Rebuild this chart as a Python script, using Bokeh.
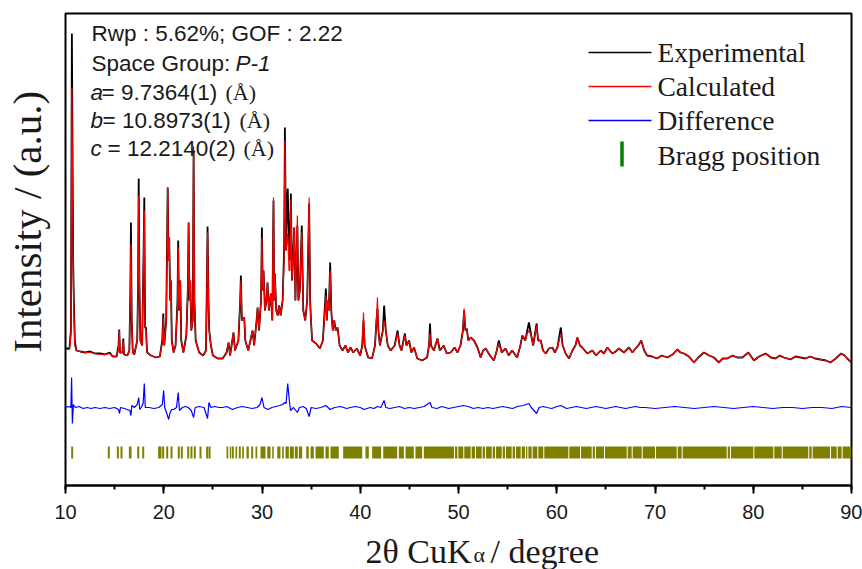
from math import pi
from bokeh.plotting import figure
from bokeh.layouts import column, row
from bokeh.models import Range1d, Label, SingleIntervalTicker
from bokeh.core.properties import value
from bokeh.embed import file_html
from bokeh.resources import INLINE

# ---------------- data ----------------
two_theta = [10.00, 10.40, 10.55, 10.65, 10.78, 10.85, 10.95, 11.1, 11.5, 12.0, 12.5, 13.0, 13.5, 14.0,
             14.5, 14.8, 15.2, 15.4, 15.47, 15.55, 15.8, 15.88, 15.96, 16.3, 16.5, 16.6, 16.66, 16.74,
             16.85, 17.0, 17.3, 17.38, 17.45, 17.52, 17.62, 17.8, 17.95, 18.02, 18.1, 18.19, 18.3, 18.7,
             19.2, 19.6, 19.85, 19.95, 20.05, 20.25, 20.33, 20.4, 20.48, 20.56, 20.65, 20.73, 20.82, 21.0,
             21.2, 21.4, 21.47, 21.55, 21.68, 21.78, 22.0, 22.3, 22.45, 22.53, 22.62, 22.7, 22.8, 22.95,
             23.04, 23.12, 23.25, 23.6, 24.0, 24.3, 24.46, 24.55, 24.63, 24.8, 25.0, 25.5, 26.0, 26.4,
             26.6, 26.75, 27.1, 27.25, 27.6, 27.78, 27.85, 27.95, 28.19, 28.3, 28.6, 29.04, 29.2, 29.45,
             29.55, 29.7, 29.9, 29.99, 30.08, 30.16, 30.3, 30.45, 30.56, 30.7, 30.9, 31.05, 31.17, 31.25,
             31.31, 31.45, 31.6, 31.75, 31.9, 32.1, 32.25, 32.33, 32.45, 32.55, 32.62, 32.75, 32.85, 32.94,
             33.05, 33.15, 33.28, 33.4, 33.5, 33.6, 33.7, 33.85, 34.05, 34.2, 34.4, 34.6, 34.8, 34.9,
             34.97, 35.1, 35.5, 35.9, 36.2, 36.5, 36.6, 36.67, 36.8, 36.94, 37.05, 37.2, 37.35, 37.51,
             37.7, 37.9, 38.2, 38.5, 38.75, 39.0, 39.3, 39.65, 40.0, 40.2, 40.33, 40.45, 40.8, 41.2,
             41.5, 41.65, 41.75, 41.85, 42.0, 42.3, 42.43, 42.6, 42.8, 43.1, 43.5, 43.8, 44.0, 44.2,
             44.54, 44.7, 44.97, 45.2, 45.48, 45.8, 46.3, 46.8, 47.0, 47.1, 47.2, 47.5, 47.86, 48.1,
             48.5, 48.8, 49.2, 49.6, 49.9, 50.2, 50.45, 50.57, 50.7, 50.84, 51.0, 51.25, 51.58, 51.93,
             52.26, 52.5, 52.77, 53.2, 53.6, 53.9, 54.1, 54.4, 54.8, 55.1, 55.46, 55.97, 56.3, 56.5,
             56.8, 57.0, 57.17, 57.4, 57.6, 57.95, 58.1, 58.37, 58.6, 58.88, 59.2, 59.56, 59.8, 60.07,
             60.41, 60.6, 60.9, 61.25, 61.6, 61.9, 62.1, 62.35, 62.6, 63.1, 63.63, 64.0, 64.47, 64.8,
             65.15, 65.66, 66.0, 66.33, 66.84, 67.35, 67.7, 68.03, 68.3, 68.6, 68.9, 69.2, 69.7, 70.2,
             70.7, 71.25, 71.8, 72.27, 72.6, 72.95, 73.45, 73.96, 74.4, 74.98, 75.5, 76.0, 76.5, 76.9,
             77.36, 77.9, 78.37, 78.9, 79.5, 80.07, 80.6, 81.26, 81.8, 82.27, 82.7, 83.1, 83.8, 84.3,
             84.8, 85.3, 85.82, 86.3, 86.84, 87.4, 87.86, 88.4, 88.95, 89.3, 89.56, 90.0]

exp_int = [137, 137, 155, 452, 225, 185, 145, 135, 134, 133, 134, 132, 132, 131,
           133, 129, 129, 140, 156, 133, 133, 147, 131, 130, 135, 193, 263, 165,
           133, 131, 145, 195, 307, 205, 145, 140, 235, 288, 158, 158, 133, 130,
           128, 129, 145, 172, 140, 165, 235, 298, 225, 248, 185, 205, 145, 133,
           140, 185, 245, 175, 205, 145, 133, 150, 195, 263, 185, 205, 155, 165,
           335, 185, 145, 133, 130, 135, 259, 185, 155, 140, 130, 127, 127, 133,
           143, 130, 153, 135, 145, 185, 210, 165, 168, 145, 135, 155, 140, 165,
           178, 155, 185, 258, 195, 215, 175, 185, 203, 175, 192, 165, 285, 185,
           212, 175, 170, 180, 170, 185, 235, 358, 235, 285, 297, 245, 225, 292,
           205, 225, 258, 185, 225, 260, 185, 195, 260, 175, 165, 185, 282, 185,
           168, 145, 142, 137, 145, 197, 165, 185, 175, 223, 175, 155, 165, 155,
           158, 140, 135, 140, 133, 138, 133, 137, 130, 140, 165, 140, 128, 127,
           140, 165, 177, 155, 140, 155, 180, 155, 140, 135, 140, 155, 140, 135,
           152, 140, 145, 133, 138, 127, 125, 128, 140, 162, 140, 135, 147, 135,
           140, 132, 133, 138, 133, 140, 155, 175, 155, 157, 145, 148, 145, 138,
           128, 135, 137, 130, 125, 135, 145, 133, 137, 130, 135, 128, 140, 150,
           145, 155, 163, 150, 140, 162, 145, 145, 135, 132, 137, 138, 133, 138,
           158, 140, 132, 127, 135, 140, 148, 140, 138, 132, 135, 130, 135, 132,
           138, 132, 134, 137, 133, 138, 133, 137, 140, 145, 135, 130, 129, 127,
           130, 128, 131, 136, 133, 132, 129, 123, 128, 133, 130, 128, 123, 127,
           127, 130, 128, 128, 133, 125, 129, 132, 128, 127, 130, 128, 126, 129,
           128, 127, 129, 127, 126, 125, 123, 127, 132, 130, 127, 123]

calc_int = [136, 136, 150, 398, 215, 175, 140, 135, 134, 133, 133, 132, 131, 131,
            132, 129, 129, 137, 155, 133, 133, 145, 131, 130, 135, 193, 242, 165,
            133, 131, 145, 190, 290, 205, 145, 140, 235, 275, 158, 155, 133, 130,
            128, 129, 143, 168, 140, 165, 230, 298, 225, 248, 185, 205, 145, 133,
            140, 180, 238, 175, 205, 145, 133, 150, 195, 263, 185, 205, 155, 165,
            339, 185, 145, 133, 130, 135, 253, 185, 155, 140, 130, 127, 127, 133,
            143, 130, 153, 135, 145, 185, 205, 165, 168, 145, 135, 155, 140, 165,
            178, 155, 185, 248, 195, 215, 175, 185, 203, 175, 192, 165, 288, 185,
            212, 175, 170, 180, 170, 185, 225, 345, 235, 245, 252, 215, 215, 285,
            205, 225, 258, 185, 225, 270, 185, 195, 253, 175, 165, 185, 288, 185,
            168, 145, 142, 137, 145, 190, 165, 185, 175, 215, 175, 155, 165, 155,
            158, 140, 135, 140, 133, 138, 133, 137, 130, 140, 173, 140, 128, 127,
            140, 165, 188, 155, 140, 155, 165, 155, 140, 135, 140, 152, 140, 135,
            150, 140, 145, 133, 138, 127, 125, 128, 140, 152, 140, 135, 147, 135,
            140, 132, 133, 138, 133, 140, 155, 177, 155, 157, 145, 148, 145, 138,
            128, 135, 137, 130, 125, 135, 142, 133, 137, 130, 135, 128, 140, 150,
            145, 152, 155, 150, 140, 160, 145, 145, 135, 132, 137, 138, 133, 138,
            152, 140, 132, 127, 135, 140, 148, 140, 138, 132, 135, 130, 135, 132,
            138, 132, 134, 137, 133, 138, 133, 137, 140, 145, 135, 130, 129, 127,
            130, 128, 131, 136, 133, 132, 129, 123, 128, 133, 130, 128, 123, 127,
            127, 130, 128, 128, 133, 125, 129, 132, 128, 127, 130, 128, 126, 129,
            128, 127, 129, 127, 126, 125, 123, 127, 132, 130, 127, 123]

diff_theta = [10.0, 10.3, 10.55, 10.62, 10.7, 10.8, 11.0, 11.4, 11.8, 12.2, 12.6, 13.0, 13.5, 14.0,
              14.5, 15.0, 15.4, 15.5, 15.6, 16.0, 16.55, 16.66, 16.75, 17.0, 17.3, 17.45, 17.55, 17.7,
              17.9, 18.02, 18.12, 18.5, 19.0, 19.5, 19.85, 19.99, 20.1, 20.35, 20.5, 20.65, 20.8, 21.0,
              21.3, 21.47, 21.6, 21.9, 22.2, 22.5, 22.8, 23.04, 23.2, 23.6, 24.1, 24.46, 24.6, 24.8,
              25.2, 25.6, 26.0, 26.4, 26.8, 27.0, 27.5, 28.0, 28.5, 29.0, 29.5, 29.8, 29.99, 30.2,
              30.6, 31.0, 31.4, 31.8, 32.1, 32.33, 32.45, 32.62, 32.75, 32.9, 33.2, 33.6, 33.8, 34.2,
              34.5, 34.8, 35.0, 35.5, 36.0, 36.5, 36.94, 37.4, 38.0, 38.6, 39.0, 39.5, 40.0, 40.4,
              41.0, 41.4, 41.75, 42.1, 42.43, 42.6, 43.0, 43.5, 44.0, 44.5, 45.0, 45.5, 46.0, 46.5,
              47.1, 47.3, 47.8, 48.3, 49.0, 49.5, 50.0, 50.5, 51.0, 51.5, 52.0, 52.5, 53.0, 53.5,
              54.0, 54.5, 55.0, 55.5, 56.0, 56.6, 57.17, 57.4, 57.95, 58.2, 58.6, 59.0, 59.5, 60.0,
              60.4, 61.0, 61.5, 62.0, 62.5, 63.0, 63.5, 64.0, 64.5, 65.0, 65.5, 66.0, 66.5, 67.0,
              67.5, 68.0, 68.5, 69.0, 70.0, 71.0, 72.0, 73.0, 74.0, 75.0, 76.0, 77.0, 78.0, 79.0,
              80.0, 81.0, 82.0, 83.0, 84.0, 85.0, 86.0, 87.0, 88.0, 89.0, 90.0]
diff_val = [0, 1, 0, 30, -16, 3, 0, 1, -1, 0, -1, 0, -1, 0,
            -1, 0, -2, -6, 0, -1, -3, -8, 2, 0, 3, 10, -2, 0,
            4, 24, 0, 0, -1, 0, 3, 17, 0, -7, -12, -5, -2, -2,
            0, 15, -3, 0, 1, 0, -3, -10, 0, 1, 0, -11, 5, 0,
            1, 0, 0, 1, -1, -2, 0, 1, 0, -1, 0, 3, 10, 0,
            -2, 0, 1, 2, 3, 5, 4, 24, 10, -3, 0, -5, 0, 1,
            -1, -9, 0, -1, 0, 2, -2, 0, 1, -1, 0, 1, 0, -2,
            0, -1, 1, 0, 7, 0, -1, 0, 1, -1, 0, -1, 0, 1,
            5, 0, -1, 1, -1, 0, 1, 2, 1, -1, 0, -1, 0, -1,
            0, 1, 0, -1, 1, 2, 4, 0, -6, 0, 1, 0, -1, 1,
            2, -1, 0, 1, 0, -1, 0, 1, 0, -1, 0, 1, 0, -1,
            0, 1, 0, 0, -1, 0, 1, 0, -1, 0, 1, 0, -1, 0,
            1, 0, -1, 0, 0, -1, 0, 0, -1, 1, 0]

bragg_single = [10.68, 14.41, 15.33, 15.70, 17.40, 17.91, 19.53, 19.67, 19.94, 20.35, 20.79, 21.53,
                21.84, 22.49, 22.82, 23.16, 23.74, 24.42, 24.66, 27.03, 27.74]
bragg_lo = [16.45, 26.39, 26.72, 27.30, 27.98, 28.42, 28.90, 29.34, 29.85, 30.53, 31.04, 31.55, 32.05,
            32.39, 32.83, 33.34, 33.75, 34.50, 34.94, 35.45, 36.46, 36.97, 38.26, 40.53, 41.21, 42.34,
            43.93, 44.61, 45.62, 46.47, 49.64, 49.98, 50.59, 51.34, 51.78, 52.46, 52.80, 53.48, 53.82,
            54.50, 54.83, 55.51, 55.85, 56.43, 56.87, 57.11, 57.55, 58.12, 58.73, 61.28, 62.47, 63.66,
            63.99, 64.91, 67.22, 67.73, 68.75, 70.10, 72.31, 72.82, 77.40, 77.73, 80.11, 82.14, 83.00,
            85.70, 86.05, 87.91, 88.59, 89.10]
bragg_hi = [16.72, 26.56, 26.86, 27.47, 28.15, 28.66, 29.10, 29.51, 30.36, 30.87, 31.20, 31.88, 32.22,
            32.73, 33.24, 33.64, 34.09, 34.76, 35.27, 36.29, 36.80, 37.82, 40.20, 40.87, 42.13, 43.76,
            44.44, 45.45, 46.30, 49.54, 49.88, 50.49, 51.24, 51.68, 52.36, 52.70, 53.38, 53.72, 54.40,
            54.73, 55.41, 55.75, 56.33, 56.77, 57.01, 57.45, 58.02, 58.63, 61.18, 62.37, 63.56, 63.89,
            64.81, 67.12, 67.63, 68.65, 70.00, 72.21, 72.72, 77.30, 77.63, 80.01, 82.04, 82.90, 85.60,
            85.95, 87.81, 88.49, 89.00, 90.00]

# ---------------- layout constants ----------------
DIFF_OFFSET = 78
BRAGG_Y0, BRAGG_Y1 = 27, 39
F_LEFT, F_RIGHT, F_TOP, F_BOTTOM = 65, 851, 13, 485  # frame in page pixels
PX_PER_DEG = (F_RIGHT - F_LEFT) / 80.0
LEFT_W = 53      # width of the strip holding the y title
MAIN_H = 528     # height of the main figure
TEXT_C = "#1a1a1a"


def px_x(px):
    return 10 + (px - F_LEFT) / PX_PER_DEG


def px_y(py):
    return F_BOTTOM - py


# ---------------- main plot ----------------
p = figure(width=862 - LEFT_W, height=MAIN_H, x_range=Range1d(10, 90), y_range=Range1d(0, 472),
           y_axis_type=None, output_backend="svg", toolbar_location=None, title=None,
           min_border_left=F_LEFT - LEFT_W, min_border_right=862 - F_RIGHT, min_border_top=F_TOP,
           min_border_bottom=MAIN_H - F_BOTTOM,
           background_fill_color="white", border_fill_color="white")
p.grid.visible = False
p.outline_line_color = "black"
p.outline_line_width = 2
p.outline_line_alpha = 1.0

ax = p.xaxis[0]
ax.ticker = SingleIntervalTicker(interval=10, num_minor_ticks=2)
ax.axis_line_width = 2
ax.axis_line_color = "black"
ax.major_tick_in = 0
ax.major_tick_out = 8
ax.minor_tick_in = 0
ax.minor_tick_out = 4
ax.major_tick_line_width = 2
ax.minor_tick_line_width = 2
ax.major_tick_line_color = "black"
ax.minor_tick_line_color = "black"
ax.major_label_text_font = "Liberation Sans"
ax.major_label_text_font_size = "20px"
ax.major_label_text_color = TEXT_C
ax.major_label_standoff = 11

# curves
p.line(two_theta, exp_int, line_color="black", line_width=1.8)
p.line(two_theta, calc_int, line_color="#ff0000", line_width=1.2)
p.line(diff_theta, [d + DIFF_OFFSET for d in diff_val], line_color="#0000ff", line_width=1.2)
p.segment(x0=bragg_single, x1=bragg_single, y0=BRAGG_Y0, y1=BRAGG_Y1,
          line_color="#808000", line_width=2)
p.quad(left=bragg_lo, right=bragg_hi, bottom=BRAGG_Y0, top=BRAGG_Y1,
       fill_color="#808000", line_color=None)

# legend (drawn by hand)
leg_cols = ["black", "#ff0000", "#0000ff"]
leg_names = ["Experimental", "Calculated", "Difference"]
leg_py = [52, 86, 120]
for c, n, yy in zip(leg_cols, leg_names, leg_py):
    p.segment(x0=[px_x(588)], x1=[px_x(651)], y0=[px_y(yy)], y1=[px_y(yy)], line_color=c, line_width=1.3)
    p.add_layout(Label(x=px_x(657), y=px_y(yy), text=n, text_font="Liberation Serif",
                       text_font_size="27.5px", text_color=TEXT_C, text_baseline="middle"))
p.segment(x0=[px_x(621.5)], x1=[px_x(621.5)], y0=[px_y(141)], y1=[px_y(166)],
          line_color="#008000", line_width=3.5)
p.add_layout(Label(x=px_x(657), y=px_y(155), text="Bragg position", text_font="Liberation Serif",
                   text_font_size="27.5px", text_color=TEXT_C, text_baseline="middle"))


def txt(px, py, s, font="Liberation Sans", size="22.5px", style="normal"):
    p.add_layout(Label(x=px_x(px), y=px_y(py), text=s, text_font=font, text_font_size=size,
                       text_font_style=style, text_color=TEXT_C, text_baseline="middle"))


# refinement info
txt(91, 33, "Rwp : 5.62%; GOF : 2.22")
txt(91, 63, "Space Group: ")
txt(235, 63, "P-1", style="italic")
txt(90, 92, "a", style="italic")
txt(101, 92, "= 9.7364(1)")
txt(225, 92, "(Å)", font="Liberation Serif", size="22px")
txt(90, 120, "b", style="italic")
txt(102, 120, "= 10.8973(1)")
txt(239, 120, "(Å)", font="Liberation Serif", size="22px")
txt(90, 148, "c", style="italic")
txt(107, 148, "= 12.2140(2)")
txt(243, 148, "(Å)", font="Liberation Serif", size="22px")

# ---------------- strip on the left: y title ----------------
pl = figure(width=LEFT_W, height=MAIN_H, x_range=Range1d(0, LEFT_W), y_range=Range1d(MAIN_H, 0),
            x_axis_type=None, y_axis_type=None, output_backend="svg", toolbar_location=None,
            title=None, min_border=0, outline_line_color=None,
            background_fill_color="white", border_fill_color="white")
pl.grid.visible = False
pl.text(x=[26], y=[233], text=["Intensity / (a.u.)"], angle=pi / 2, text_align="center",
        text_baseline="middle", text_font=value("Liberation Serif"), text_font_size="41px",
        text_color=TEXT_C)

# ---------------- strip at the bottom: x title with subscript ----------------
pb = figure(width=862, height=569 - MAIN_H, x_range=Range1d(0, 862), y_range=Range1d(569, MAIN_H),
            x_axis_type=None, y_axis_type=None, output_backend="svg", toolbar_location=None,
            title=None, min_border=0, outline_line_color=None,
            background_fill_color="white", border_fill_color="white")
pb.grid.visible = False
pb.text(x=[365], y=[551], text=["2θ CuK"], text_baseline="alphabetic",
        text_font=value("Liberation Serif"), text_font_size="34px", text_color=TEXT_C)
pb.text(x=[473], y=[554], text=["α"], text_baseline="alphabetic",
        text_font=value("Liberation Serif"), text_font_size="22px", text_color=TEXT_C)
pb.text(x=[490], y=[551], text=["/ degree"], text_baseline="alphabetic",
        text_font=value("Liberation Serif"), text_font_size="34px", text_color=TEXT_C)

layout = column(row(pl, p), pb)
open("out.html", "w").write(file_html(layout, INLINE))
